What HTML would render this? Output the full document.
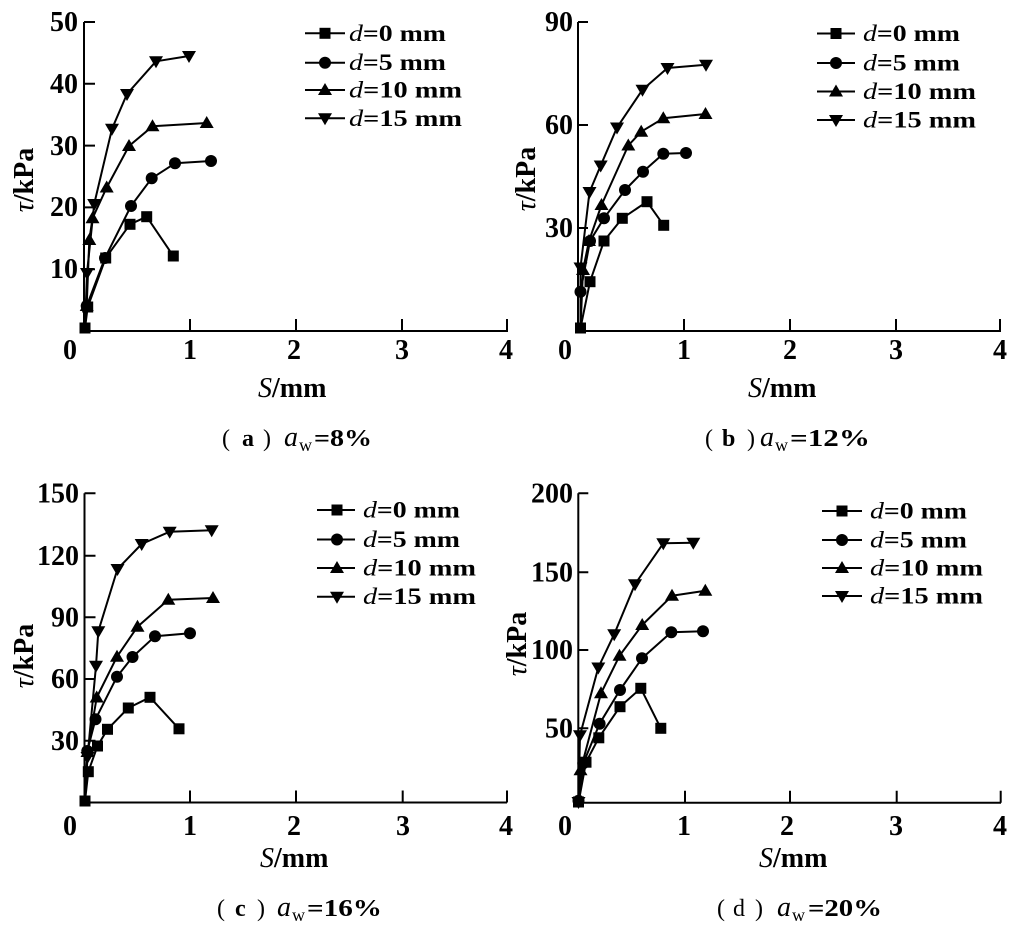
<!DOCTYPE html>
<html><head><meta charset="utf-8"><style>
html,body{margin:0;padding:0;background:#fff;}
svg{display:block;}
text{font-family:"Liberation Serif","Noto Serif CJK SC",serif;fill:#000;}
.t{font-size:28px;font-weight:bold;}
.lg{font-size:23px;font-weight:bold;}
.cap{font-size:24px;font-weight:bold;}
.it{font-style:italic;font-weight:normal;}
.ca{font-style:italic;font-weight:normal;font-size:28px;}
.sub{font-size:18px;font-weight:normal;}
.ax{stroke:#000;stroke-width:2;fill:none;}
.s{stroke:#000;stroke-width:2;fill:none;stroke-linejoin:round;}
</style></head><body>
<svg width="1021" height="929" viewBox="0 0 1021 929" xmlns="http://www.w3.org/2000/svg">
<defs>
<path id="sq" d="M-5.5,-5.5h11v11h-11z"/>
<circle id="ci" r="6"/>
<path id="tu" d="M0,-7L7,5H-7z"/>
<path id="td" d="M0,7L7,-5H-7z"/>
</defs>

<!-- ===== Panel (a) ===== -->
<path class="ax" d="M84,22V331H508M84,22h11M84,83.8h11M84,145.6h11M84,207.4h11M84,269.2h11M190,331v-12M296,331v-12M402,331v-12M507,331v-12"/>
<g class="t" text-anchor="end"><text x="78" y="31">50</text><text x="78" y="93">40</text><text x="78" y="155">30</text><text x="78" y="216">20</text><text x="78" y="278">10</text></g>
<g class="t" text-anchor="middle"><text x="70" y="359">0</text><text x="190" y="359">1</text><text x="294" y="359">2</text><text x="402" y="359">3</text><text x="506" y="359">4</text></g>
<text class="t" transform="translate(33,180) rotate(-90)" text-anchor="middle"><tspan class="it">τ</tspan>/kPa</text>
<text class="t" x="258" y="397"><tspan class="it">S</tspan>/mm</text>
<g class="cap"><text x="222" y="446" font-weight="normal">(</text><text x="242" y="446">a</text><text x="263" y="446" font-weight="normal">)</text><text x="284" y="446" class="ca">a</text><text x="299" y="451" class="sub">w</text><text x="314" y="446" textLength="58" lengthAdjust="spacingAndGlyphs">=8%</text></g>

<polyline class="s" points="85,328 87.7,307 105.7,258 130,224.3 146.7,216.7 173.3,256"/>
<polyline class="s" points="85,328 86.7,306 105,258 131,206 151.7,178.3 175,163.3 211,161"/>
<polyline class="s" points="85,328 86.7,306 89.3,240 92.5,218.3 106.7,187.5 129,146 152.5,126.3 206.7,123"/>
<polyline class="s" points="85,328 87,273 94.2,204 112,128.8 127,94 156,61.3 189,56"/>
<g>
<use href="#sq" x="85" y="328"/><use href="#sq" x="87.7" y="307"/><use href="#sq" x="105.7" y="258"/><use href="#sq" x="130" y="224.3"/><use href="#sq" x="146.7" y="216.7"/><use href="#sq" x="173.3" y="256"/>
<use href="#ci" x="86.7" y="306"/><use href="#ci" x="105" y="258"/><use href="#ci" x="131" y="206"/><use href="#ci" x="151.7" y="178.3"/><use href="#ci" x="175" y="163.3"/><use href="#ci" x="211" y="161"/>
<use href="#tu" x="86.7" y="306"/><use href="#tu" x="89.3" y="240"/><use href="#tu" x="92.5" y="218.3"/><use href="#tu" x="106.7" y="187.5"/><use href="#tu" x="129" y="146"/><use href="#tu" x="152.5" y="126.3"/><use href="#tu" x="206.7" y="123"/>
<use href="#td" x="87" y="273"/><use href="#td" x="94.2" y="204"/><use href="#td" x="112" y="128.8"/><use href="#td" x="127" y="94"/><use href="#td" x="156" y="61.3"/><use href="#td" x="189" y="56"/>
</g>
<path class="s" d="M305,33.3H345M305,62.7H345M305,90H345M305,118.3H345"/>
<use href="#sq" x="325" y="33.3"/><use href="#ci" x="325" y="62.7"/><use href="#tu" x="325" y="90"/><use href="#td" x="325" y="118.3"/>
<g class="lg">
<text x="349" y="41" textLength="97" lengthAdjust="spacingAndGlyphs"><tspan class="it">d</tspan>=0 mm</text>
<text x="349" y="70" textLength="97" lengthAdjust="spacingAndGlyphs"><tspan class="it">d</tspan>=5 mm</text>
<text x="349" y="97.5" textLength="113" lengthAdjust="spacingAndGlyphs"><tspan class="it">d</tspan>=10 mm</text>
<text x="349" y="126" textLength="113" lengthAdjust="spacingAndGlyphs"><tspan class="it">d</tspan>=15 mm</text>
</g>

<!-- ===== Panel (b) ===== -->
<path class="ax" d="M578,22V331H1001M578,22h10M578,125h10M578,228h10M684,331v-12M790,331v-12M896,331v-12M1000,331v-12"/>
<g class="t" text-anchor="end"><text x="573" y="31">90</text><text x="573" y="134">60</text><text x="573" y="237">30</text></g>
<g class="t" text-anchor="middle"><text x="565" y="359">0</text><text x="684" y="359">1</text><text x="790" y="359">2</text><text x="896" y="359">3</text><text x="1000" y="359">4</text></g>
<text class="t" transform="translate(535,179) rotate(-90)" text-anchor="middle"><tspan class="it">τ</tspan>/kPa</text>
<text class="t" x="748" y="397"><tspan class="it">S</tspan>/mm</text>
<g class="cap"><text x="705" y="446" font-weight="normal">(</text><text x="722" y="446">b</text><text x="747" y="446" font-weight="normal">)</text><text x="760" y="446" class="ca">a</text><text x="775" y="451" class="sub">w</text><text x="790" y="446" textLength="80" lengthAdjust="spacingAndGlyphs">=12%</text></g>

<polyline class="s" points="580.5,328 590,281.7 604,241 622.3,218.3 647,201.7 663.7,225.3"/>
<polyline class="s" points="580.5,328 580.5,291.7 590,241 604,218.2 625,190 643,171.7 663.3,153.7 686,153"/>
<polyline class="s" points="580.5,328 583,270 589,241 601.5,205 628.3,145.5 641.2,131.7 663.3,118.3 705.5,114"/>
<polyline class="s" points="580.5,328 580.5,267.5 589.5,192 600.7,165.5 617,127.5 642.5,89.7 667.5,68 706,64.7"/>
<g>
<use href="#sq" x="580.5" y="328"/><use href="#sq" x="590" y="281.7"/><use href="#sq" x="604" y="241"/><use href="#sq" x="622.3" y="218.3"/><use href="#sq" x="647" y="201.7"/><use href="#sq" x="663.7" y="225.3"/>
<use href="#ci" x="580.5" y="291.7"/><use href="#ci" x="590" y="241"/><use href="#ci" x="604" y="218.2"/><use href="#ci" x="625" y="190"/><use href="#ci" x="643" y="171.7"/><use href="#ci" x="663.3" y="153.7"/><use href="#ci" x="686" y="153"/>
<use href="#tu" x="583" y="270"/><use href="#tu" x="589" y="241"/><use href="#tu" x="601.5" y="205"/><use href="#tu" x="628.3" y="145.5"/><use href="#tu" x="641.2" y="131.7"/><use href="#tu" x="663.3" y="118.3"/><use href="#tu" x="705.5" y="114"/>
<use href="#td" x="580.5" y="267.5"/><use href="#td" x="589.5" y="192"/><use href="#td" x="600.7" y="165.5"/><use href="#td" x="617" y="127.5"/><use href="#td" x="642.5" y="89.7"/><use href="#td" x="667.5" y="68"/><use href="#td" x="706" y="64.7"/>
</g>
<path class="s" d="M817,33.5H855M817,63H855M817,91.5H855M817,120H855"/>
<use href="#sq" x="836" y="33.5"/><use href="#ci" x="836" y="63"/><use href="#tu" x="836" y="91.5"/><use href="#td" x="836" y="120"/>
<g class="lg">
<text x="863" y="41" textLength="97" lengthAdjust="spacingAndGlyphs"><tspan class="it">d</tspan>=0 mm</text>
<text x="863" y="70.5" textLength="97" lengthAdjust="spacingAndGlyphs"><tspan class="it">d</tspan>=5 mm</text>
<text x="863" y="99" textLength="113" lengthAdjust="spacingAndGlyphs"><tspan class="it">d</tspan>=10 mm</text>
<text x="863" y="127.5" textLength="113" lengthAdjust="spacingAndGlyphs"><tspan class="it">d</tspan>=15 mm</text>
</g>

<!-- ===== Panel (c) ===== -->
<path class="ax" d="M84.5,493.3V802.5H507M84.5,493.3h11M84.5,555.7h11M84.5,617.3h11M84.5,679h11M84.5,740.7h11M190,802.5v-12M296,802.5v-12M402.7,802.5v-12M507,802.5v-12"/>
<g class="t" text-anchor="end"><text x="79" y="502.5">150</text><text x="79" y="565">120</text><text x="79" y="626.5">90</text><text x="79" y="688">60</text><text x="79" y="750">30</text></g>
<g class="t" text-anchor="middle"><text x="70" y="835">0</text><text x="190" y="835">1</text><text x="294" y="835">2</text><text x="403" y="835">3</text><text x="506" y="835">4</text></g>
<text class="t" transform="translate(33,656) rotate(-90)" text-anchor="middle"><tspan class="it">τ</tspan>/kPa</text>
<text class="t" x="260" y="867"><tspan class="it">S</tspan>/mm</text>
<g class="cap"><text x="217" y="916" font-weight="normal">(</text><text x="235" y="916">c</text><text x="257" y="916" font-weight="normal">)</text><text x="277" y="916" class="ca">a</text><text x="292" y="921" class="sub">w</text><text x="307" y="916" textLength="75" lengthAdjust="spacingAndGlyphs">=16%</text></g>

<polyline class="s" points="85,801 88.3,771.7 97.5,746 107.5,729.3 128.3,708 150,697.3 179,728.8"/>
<polyline class="s" points="85,801 87.3,751 95.5,719.3 117,676.7 132.5,657 155,636.3 190,633.3"/>
<polyline class="s" points="85,801 87.5,752 96.7,697.5 117,656.7 137.5,626.7 168.3,599.7 213,598"/>
<polyline class="s" points="85,801 87.5,757 96,665.8 98.3,631.3 117.5,569 141.7,544 169.7,531.7 211.7,530.3"/>
<g>
<use href="#sq" x="85" y="801"/><use href="#sq" x="88.3" y="771.7"/><use href="#sq" x="97.5" y="746"/><use href="#sq" x="107.5" y="729.3"/><use href="#sq" x="128.3" y="708"/><use href="#sq" x="150" y="697.3"/><use href="#sq" x="179" y="728.8"/>
<use href="#ci" x="87.3" y="751"/><use href="#ci" x="95.5" y="719.3"/><use href="#ci" x="117" y="676.7"/><use href="#ci" x="132.5" y="657"/><use href="#ci" x="155" y="636.3"/><use href="#ci" x="190" y="633.3"/>
<use href="#tu" x="87.5" y="752"/><use href="#tu" x="96.7" y="697.5"/><use href="#tu" x="117" y="656.7"/><use href="#tu" x="137.5" y="626.7"/><use href="#tu" x="168.3" y="599.7"/><use href="#tu" x="213" y="598"/>
<use href="#td" x="87.5" y="757"/><use href="#td" x="96" y="665.8"/><use href="#td" x="98.3" y="631.3"/><use href="#td" x="117.5" y="569"/><use href="#td" x="141.7" y="544"/><use href="#td" x="169.7" y="531.7"/><use href="#td" x="211.7" y="530.3"/>
</g>
<path class="s" d="M317,510H355M317,539.5H355M317,568H355M317,596.7H355"/>
<use href="#sq" x="337" y="510"/><use href="#ci" x="337" y="539.5"/><use href="#tu" x="337" y="568"/><use href="#td" x="337" y="596.7"/>
<g class="lg">
<text x="363" y="517.5" textLength="97" lengthAdjust="spacingAndGlyphs"><tspan class="it">d</tspan>=0 mm</text>
<text x="363" y="547" textLength="97" lengthAdjust="spacingAndGlyphs"><tspan class="it">d</tspan>=5 mm</text>
<text x="363" y="575.5" textLength="113" lengthAdjust="spacingAndGlyphs"><tspan class="it">d</tspan>=10 mm</text>
<text x="363" y="604" textLength="113" lengthAdjust="spacingAndGlyphs"><tspan class="it">d</tspan>=15 mm</text>
</g>

<!-- ===== Panel (d) ===== -->
<path class="ax" d="M578.3,493.3V802.7H1001M578.3,493.3h10M578.3,572.3h10M578.3,650h10M578.3,728.3h10M685,802.7v-12M790,802.7v-12M896.7,802.7v-12M1000.7,802.7v-12"/>
<g class="t" text-anchor="end"><text x="573" y="502.5">200</text><text x="573" y="581.5">150</text><text x="573" y="659">100</text><text x="573" y="737.5">50</text></g>
<g class="t" text-anchor="middle"><text x="565" y="835">0</text><text x="684" y="835">1</text><text x="787" y="835">2</text><text x="896" y="835">3</text><text x="1000" y="835">4</text></g>
<text class="t" transform="translate(526,644) rotate(-90)" text-anchor="middle"><tspan class="it">τ</tspan>/kPa</text>
<text class="t" x="759" y="867"><tspan class="it">S</tspan>/mm</text>
<g class="cap"><text x="717" y="916" font-weight="normal">(</text><text x="733" y="916" font-weight="normal">d</text><text x="755" y="916" font-weight="normal">)</text><text x="777" y="916" class="ca">a</text><text x="792" y="921" class="sub">w</text><text x="808" y="916" textLength="74" lengthAdjust="spacingAndGlyphs">=20%</text></g>

<polyline class="s" points="578.5,802.7 586,762.2 598.8,737.8 620,706.7 640.8,688.3 660.8,728.3"/>
<polyline class="s" points="578.5,800.7 583.3,763.3 599.6,723.7 620,690 642,658.3 671.3,632.2 703,631.2"/>
<polyline class="s" points="578.5,802 580.5,770.3 601,693.3 619.5,655.8 642.2,625 672,595.8 705.3,590.7"/>
<polyline class="s" points="578.5,802 580,735.3 598.3,667.5 614.2,634.2 635,584.2 663.3,543.3 693.3,542.7"/>
<g>
<use href="#sq" x="578.5" y="802"/><use href="#sq" x="586" y="762.2"/><use href="#sq" x="598.8" y="737.8"/><use href="#sq" x="620" y="706.7"/><use href="#sq" x="640.8" y="688.3"/><use href="#sq" x="660.8" y="728.3"/>
<use href="#ci" x="578.5" y="800.7"/><use href="#ci" x="583.3" y="763.3"/><use href="#ci" x="599.6" y="723.7"/><use href="#ci" x="620" y="690"/><use href="#ci" x="642" y="658.3"/><use href="#ci" x="671.3" y="632.2"/><use href="#ci" x="703" y="631.2"/>
<use href="#tu" x="580.5" y="770.3"/><use href="#tu" x="601" y="693.3"/><use href="#tu" x="619.5" y="655.8"/><use href="#tu" x="642.2" y="625"/><use href="#tu" x="672" y="595.8"/><use href="#tu" x="705.3" y="590.7"/>
<use href="#td" x="578.5" y="802"/><use href="#td" x="580" y="735.3"/><use href="#td" x="598.3" y="667.5"/><use href="#td" x="614.2" y="634.2"/><use href="#td" x="635" y="584.2"/><use href="#td" x="663.3" y="543.3"/><use href="#td" x="693.3" y="542.7"/>
</g>
<path class="s" d="M822,511H862M822,540H862M822,568H862M822,596H862"/>
<use href="#sq" x="842" y="511"/><use href="#ci" x="842" y="540"/><use href="#tu" x="842" y="568"/><use href="#td" x="842" y="596"/>
<g class="lg">
<text x="870" y="518.5" textLength="97" lengthAdjust="spacingAndGlyphs"><tspan class="it">d</tspan>=0 mm</text>
<text x="870" y="547.5" textLength="97" lengthAdjust="spacingAndGlyphs"><tspan class="it">d</tspan>=5 mm</text>
<text x="870" y="575.5" textLength="113" lengthAdjust="spacingAndGlyphs"><tspan class="it">d</tspan>=10 mm</text>
<text x="870" y="603.5" textLength="113" lengthAdjust="spacingAndGlyphs"><tspan class="it">d</tspan>=15 mm</text>
</g>
</svg>
</body></html>
